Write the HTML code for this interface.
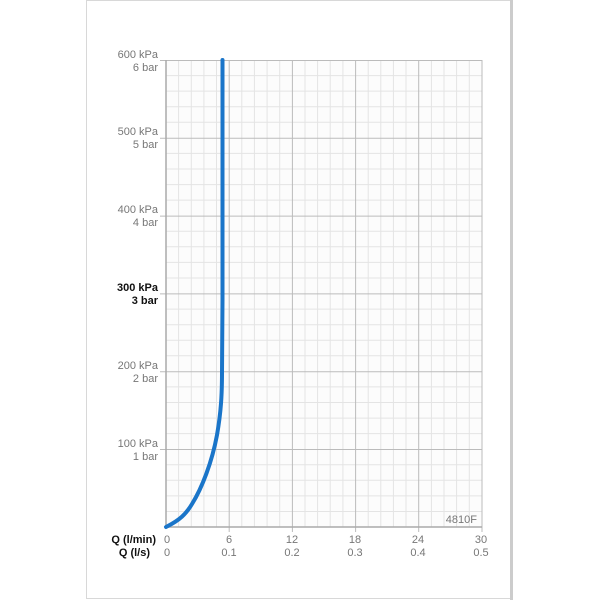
<!DOCTYPE html>
<html><head><style>
body{margin:0;background:#fff;width:600px;height:600px;overflow:hidden}
text{font-family:"Liberation Sans",sans-serif;font-size:11px;fill:#777}
</style></head><body>
<svg width="600" height="600" xmlns="http://www.w3.org/2000/svg">
<path d="M86.5 0V598.5H511M86.5 0.5H511" fill="none" stroke="#d8d8d8" stroke-width="1"/>
<rect x="510" y="0" width="3" height="600" fill="#ccc"/>
<rect x="166" y="60" width="316" height="467" fill="#fcfcfc"/>
<g stroke="#e4e4e4">
<path d="M178.6 60V527M191.3 60V527M203.9 60V527M216.5 60V527M241.8 60V527M254.4 60V527M267.1 60V527M279.7 60V527M305 60V527M317.6 60V527M330.2 60V527M342.9 60V527M368.2 60V527M380.8 60V527M393.4 60V527M406 60V527M431.4 60V527M444 60V527M456.6 60V527M469.3 60V527"/>
<path d="M166 75.6H482M166 91.1H482M166 106.7H482M166 122.3H482M166 153.4H482M166 169H482M166 184.6H482M166 200.1H482M166 231.3H482M166 246.8H482M166 262.4H482M166 278H482M166 309.1H482M166 324.7H482M166 340.2H482M166 355.8H482M166 386.9H482M166 402.5H482M166 418.1H482M166 433.6H482M166 464.8H482M166 480.3H482M166 495.9H482M166 511.5H482"/>
</g>
<g stroke="#bbb">
<path d="M229.2 60V532M292.4 60V532M355.6 60V532M418.7 60V532M482 60V532"/>
<path d="M160 60.5H482M160 138.3H482M160 216.1H482M160 293.9H482M160 371.7H482M160 449.5H482"/>
</g>
<path d="M166 60V527H482" fill="none" stroke="#aaa" stroke-width="1.5"/>
<path d="M166 527 C180 520 186 514 192 504 C202 488 212 462 217 435 C221 412 222 395 222 372 L222.5 300 L222.5 60" fill="none" stroke="#1a75c9" stroke-width="4" stroke-linecap="round"/>
<text x="477" y="523" text-anchor="end" fill="#999">4810F</text>
<g text-anchor="end">
<text x="158" y="58">600 kPa</text><text x="158" y="71">6 bar</text>
<text x="158" y="135">500 kPa</text><text x="158" y="148">5 bar</text>
<text x="158" y="213">400 kPa</text><text x="158" y="226">4 bar</text>
<text x="158" y="291" style="fill:#111;font-weight:bold">300 kPa</text><text x="158" y="304" style="fill:#111;font-weight:bold">3 bar</text>
<text x="158" y="369">200 kPa</text><text x="158" y="382">2 bar</text>
<text x="158" y="447">100 kPa</text><text x="158" y="460">1 bar</text>
<text x="156" y="543" style="fill:#111;font-weight:bold">Q (l/min)</text>
<text x="150" y="556" style="fill:#111;font-weight:bold">Q (l/s)</text>
</g>
<g text-anchor="middle">
<text x="167" y="543">0</text><text x="229" y="543">6</text><text x="292" y="543">12</text><text x="355" y="543">18</text><text x="418" y="543">24</text><text x="481" y="543">30</text>
<text x="167" y="556">0</text><text x="229" y="556">0.1</text><text x="292" y="556">0.2</text><text x="355" y="556">0.3</text><text x="418" y="556">0.4</text><text x="481" y="556">0.5</text>
</g>
</svg>
</body></html>
